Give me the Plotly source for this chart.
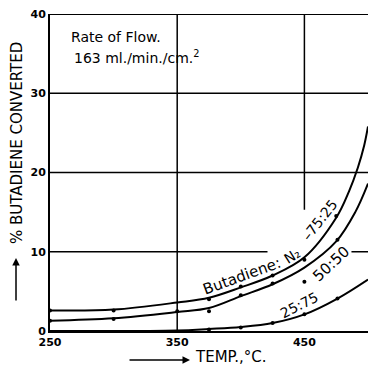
import plotly.graph_objects as go

# Measured points (dots)
x_dots_7525 = [250, 300, 375, 400, 425, 450, 475]
y_dots_7525 = [2.6, 2.6, 4.0, 5.6, 7.0, 9.0, 14.5]
x_dots_5050 = [250, 300, 350, 375, 400, 425, 450, 476]
y_dots_5050 = [1.3, 1.5, 2.5, 2.5, 4.5, 6.0, 6.2, 11.5]
x_dots_2575 = [375, 400, 425, 450, 476]
y_dots_2575 = [0.2, 0.45, 1.0, 2.1, 4.1]

# Smooth curves
x_curve_7525 = [250, 300, 350, 375, 400, 425, 450, 475, 485, 492, 497, 500]
y_curve_7525 = [2.6, 2.7, 3.6, 4.2, 5.5, 7.0, 9.3, 14.3, 17.6, 20.6, 23.4, 25.8]
x_curve_5050 = [250, 300, 350, 375, 400, 425, 450, 475, 490, 500]
y_curve_5050 = [1.3, 1.6, 2.4, 2.9, 4.4, 5.9, 8.0, 11.3, 15.0, 18.6]
x_curve_2575 = [250, 350, 375, 400, 425, 450, 476, 500]
y_curve_2575 = [0.0, 0.05, 0.25, 0.5, 1.0, 2.1, 4.1, 6.5]

x_ticks = [250, 350, 450]
y_ticks = [0, 10, 20, 30, 40]
grid_y = [20, 30]
grid_x = [350]

FONT = "DejaVu Sans"
fig = go.Figure()

for xc, yc in [(x_curve_7525, y_curve_7525), (x_curve_5050, y_curve_5050), (x_curve_2575, y_curve_2575)]:
    fig.add_trace(go.Scatter(x=xc, y=yc, mode="lines",
                             line=dict(color="black", width=2, shape="spline", smoothing=1.0),
                             hoverinfo="skip", showlegend=False))
for xd, yd in [(x_dots_7525, y_dots_7525), (x_dots_5050, y_dots_5050), (x_dots_2575, y_dots_2575)]:
    fig.add_trace(go.Scatter(x=xd, y=yd, mode="markers", marker=dict(color="black", size=4),
                             showlegend=False))

line_style = dict(color="black", width=1.5)
for gy in grid_y:
    fig.add_shape(type="line", xref="x", yref="y", x0=250, x1=500, y0=gy, y1=gy, line=line_style, layer="below")
for gx in grid_x:
    fig.add_shape(type="line", xref="x", yref="y", x0=gx, x1=gx, y0=0, y1=40, line=line_style, layer="below")
# broken grid lines (interrupted by curve labels)
fig.add_shape(type="line", xref="x", yref="y", x0=250, x1=421, y0=10, y1=10, line=line_style, layer="below")
fig.add_shape(type="line", xref="x", yref="y", x0=487, x1=500, y0=10, y1=10, line=line_style, layer="below")
fig.add_shape(type="line", xref="x", yref="y", x0=450, x1=450, y0=15.3, y1=40, line=line_style, layer="below")
# top border
fig.add_shape(type="line", xref="x", yref="y", x0=250, x1=500, y0=40, y1=40, line=dict(color="black", width=2))

labels = [
    ("Butadiene:", 401, 7.0, -20, 15),
    ("N₂", 440, 9.5, -32, 14),
    ("–75:25", 462, 14.0, -52, 14),
    ("50:50", 471, 8.4, -43, 15),
    ("25:75", 446, 3.3, -27, 14),
]
for txt, lx, ly, ang, fs in labels:
    fig.add_annotation(x=lx, y=ly, xref="x", yref="y", text=txt, showarrow=False,
                       textangle=ang, font=dict(family=FONT, size=fs, color="black"))

fig.add_annotation(x=265, y=37.1, xref="x", yref="y", text="Rate of Flow.", showarrow=False,
                   xanchor="left", font=dict(family=FONT, size=14, color="black"))
fig.add_annotation(x=267, y=34.6, xref="x", yref="y", text="163 ml./min./cm.<sup>2</sup>", showarrow=False,
                   xanchor="left", font=dict(family=FONT, size=14, color="black"))

# axis titles with arrows (paper coords relative to plot area: x 50..368 px, y 14..331 px)
fig.add_annotation(x=-0.1038, y=0.593, xref="paper", yref="paper", text="% BUTADIENE CONVERTED",
                   showarrow=False, textangle=-90, xanchor="center", yanchor="middle",
                   font=dict(family=FONT, size=15, color="black"))
fig.add_annotation(x=-0.1069, y=0.2303, ax=0, ay=44, xref="paper", yref="paper",
                   text="", showarrow=True, arrowhead=2, arrowsize=1,
                   arrowwidth=1.5, arrowcolor="black")
fig.add_annotation(x=0.569, y=-0.082, xref="paper", yref="paper", text="TEMP.,°C.",
                   showarrow=False, xanchor="center", yanchor="middle",
                   font=dict(family=FONT, size=15, color="black"))
fig.add_annotation(x=0.4403, y=-0.0915, ax=-62, ay=0, xref="paper", yref="paper",
                   text="", showarrow=True, arrowhead=2, arrowsize=1,
                   arrowwidth=1.5, arrowcolor="black")

fig.update_layout(
    width=368, height=367,
    margin=dict(l=50, r=0, t=14, b=36),
    paper_bgcolor="white", plot_bgcolor="white",
    xaxis=dict(range=[250, 500], tickvals=x_ticks, showgrid=False, zeroline=False,
               showline=True, linecolor="black", linewidth=2, ticks="",
               tickfont=dict(family=FONT, size=11, color="black", weight="bold")),
    yaxis=dict(range=[0, 40], tickvals=y_ticks, showgrid=False, zeroline=False,
               showline=True, linecolor="black", linewidth=2, ticks="",
               tickfont=dict(family=FONT, size=11, color="black", weight="bold")),
)

fig.write_html("out.html", config={"displayModeBar": False},
               post_script="document.body.style.margin='0';document.body.style.overflow='hidden';")
